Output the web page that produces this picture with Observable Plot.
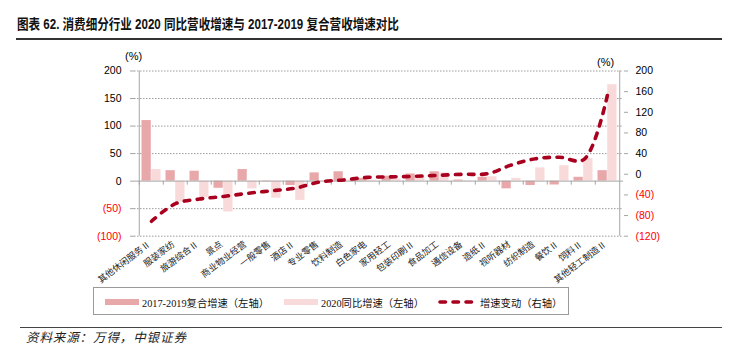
<!DOCTYPE html>
<html>
<head>
<meta charset="utf-8">
<script src="https://cdn.jsdelivr.net/npm/d3@7"></script>
<script src="https://cdn.jsdelivr.net/npm/@observablehq/plot@0.6"></script>
<style>
  html, body { margin: 0; padding: 0; background: #fff; }
  #wrap { position: relative; width: 729px; height: 352px; overflow: hidden; background: #fff; }
  .abs { position: absolute; }
  #title { left: 17px; top: 17px; font-family: "Liberation Sans", "Noto Sans CJK SC", sans-serif; font-weight: bold; font-size: 14px; line-height: 14px; white-space: nowrap; transform: scaleX(0.825); transform-origin: 0 0; color: #111; }
  #tline { left: 16px; top: 38px; width: 706px; height: 1.5px; background: #333; }
  #bline { left: 20px; top: 326.5px; width: 702px; height: 1.5px; background: #444; }
  #source { left: 26px; top: 331px; font-family: "Noto Sans CJK SC", sans-serif; font-style: italic; font-size: 12.5px; line-height: 12.5px; letter-spacing: 0.9px; color: #222; white-space: nowrap; }
  .unit { font-family: "Liberation Sans", Arial, sans-serif; font-size: 11px; line-height: 11px; color: #000; white-space: nowrap; }
  #legend { left: 93px; top: 287px; width: 476px; height: 28px; border: 1px solid #9a9a9a; box-sizing: border-box; font-family: "Liberation Serif", "Noto Sans CJK SC", serif; font-size: 10.3px; color: #111; }
  .lg { position: absolute; top: 0; height: 28px; display: flex; align-items: center; white-space: nowrap; }
  .sw { display: inline-block; width: 34px; height: 6px; margin-right: 3px; }
</style>
</head>
<body>
<div id="wrap">
  <div id="title" class="abs">图表 62. 消费细分行业 2020 同比营收增速与 2017-2019 复合营收增速对比</div>
  <div id="tline" class="abs"></div>
  <div id="chart" class="abs" style="left:0;top:0;"></div>
  <div id="unitL" class="abs unit" style="left:125px;top:51px;">(%)</div>
  <div id="unitR" class="abs unit" style="left:597px;top:57px;">(%)</div>
  <div id="legend" class="abs"></div>
  <div id="bline" class="abs"></div>
  <div id="source" class="abs">资料来源：万得，中银证券</div>
</div>
<script>
// ---- data ----
const categories = ["其他休闲服务Ⅱ", "服装家纺", "旅游综合Ⅱ", "景点", "商业物业经营", "一般零售", "酒店Ⅱ", "专业零售", "饮料制造", "白色家电", "家用轻工", "包装印刷Ⅱ", "食品加工", "通信设备", "造纸Ⅱ", "视听器材", "纺织制造", "餐饮Ⅱ", "饲料Ⅱ", "其他轻工制造Ⅱ"];
const cagr2017_2019 = [110, 19, 18, -13, 21, -1, -8, 15, 17, 5, 9, 13, 17, 2, 7, -14, -8, -7, 7, 19];
const yoy2020 = [21, -38, -30, -56, -14, -31, -35, 1, 2, 2, 4, 7, 15, 1, 8, 5, 24, 28, 41, 175];
const speedChange = [-91, -57, -48, -43, -37, -32, -27, -15, -11, -6, -5, -4, -2, 0, 1, 18, 30, 33, 28, 154];
const leftTicks = [-100, -50, 0, 50, 100, 150, 200];
const rightTicks = [-120, -80, -40, 0, 40, 80, 120, 160, 200];
const seriesNames = ["2017-2019复合增速（左轴）", "2020同比增速（左轴）", "增速变动（右轴）"];

// ---- styles ----
const darkPink = "#e8a8aa";
const lightPink = "#f9dada";
const lineRed = "#a8001e";
const axisGray = "#a6a6a6";

const rows = categories.map((c, i) => ({cat: c, cagr: cagr2017_2019[i], yoy: yoy2020[i], change: speedChange[i]}));

// right axis [-120,200] mapped onto left axis [-100,200]
const L0 = leftTicks[0], L1 = leftTicks[leftTicks.length - 1];
const R0 = rightTicks[0], R1 = rightTicks[rightTicks.length - 1];
const toLeft = v => L0 + (v - R0) * (L1 - L0) / (R1 - R0);
const fromLeft = v => R0 + (v - L0) * (R1 - R0) / (L1 - L0);
const fmt = d => d < 0 ? `(${-d})` : `${d}`;

const W = 729, H = 290, mL = 134, mR = 106, mT = 70.5, mB = 54.3;
const bw = (W - mL - mR) / categories.length;

const numFont = "'Liberation Sans', Arial, sans-serif";
const catFont = "'Liberation Serif', 'Noto Sans CJK SC', serif";

const chart = Plot.plot({
  width: W, height: H,
  marginLeft: mL, marginRight: mR, marginTop: mT, marginBottom: mB,
  x: {type: "band", domain: categories, padding: 0, label: null},
  y: {domain: [L0, L1], label: null},
  style: {fontFamily: numFont, fontSize: "10.5px", color: "#000", background: "transparent", overflow: "visible"},
  marks: [
    Plot.ruleY(leftTicks.filter(d => d !== 0), {stroke: "#9c9c9c", strokeDasharray: "1.5,1.5"}),
    Plot.barY(rows, {x: "cat", y: "cagr", fill: darkPink, insetLeft: 2.5, insetRight: bw / 2}),
    Plot.barY(rows, {x: "cat", y: "yoy", fill: lightPink, insetLeft: bw / 2, insetRight: 2.5}),
    Plot.ruleY([0], {stroke: axisGray}),
    Plot.ruleX(categories, {x: d => d, y1: 0, y2: 0, insetBottom: -4, dx: -bw / 2, stroke: axisGray}),
    Plot.ruleX([categories[0]], {x: d => d, dx: -bw / 2, stroke: axisGray}),
    Plot.ruleX([categories[categories.length - 1]], {x: d => d, dx: bw / 2, stroke: axisGray}),
    Plot.axisY(leftTicks.filter(d => d >= 0), {anchor: "left", tickSize: 4, tickPadding: 9, tickFormat: fmt, stroke: axisGray, fill: "#000", fontSize: 10.5}),
    Plot.axisY(leftTicks.filter(d => d < 0), {anchor: "left", tickSize: 4, tickPadding: 9, tickFormat: fmt, stroke: axisGray, fill: "#ff0000", fontSize: 10.5}),
    Plot.axisY(rightTicks.filter(d => d >= 0).map(toLeft), {anchor: "right", tickSize: 4, tickPadding: 8, tickFormat: d => fmt(Math.round(fromLeft(d))), stroke: axisGray, fill: "#000", fontSize: 10.5}),
    Plot.axisY(rightTicks.filter(d => d < 0).map(toLeft), {anchor: "right", tickSize: 4, tickPadding: 8, tickFormat: d => fmt(Math.round(fromLeft(d))), stroke: axisGray, fill: "#ff0000", fontSize: 10.5}),
    Plot.axisX({anchor: "bottom", tickSize: 0, tickPadding: 7, tickRotate: -37, dx: -2, fontFamily: catFont, fontSize: 9, fill: "#222"}),
    Plot.line(rows, {x: "cat", y: d => toLeft(d.change), curve: "catmull-rom", stroke: lineRed, strokeWidth: 3.6, strokeDasharray: "5.5,7.5", strokeLinecap: "round"})
  ]
});
document.getElementById("chart").appendChild(chart);

// ---- legend ----
const legend = document.getElementById("legend");
const items = [
  {left: 11, html: `<span class="sw" style="background:${darkPink}"></span>${seriesNames[0]}`},
  {left: 190, html: `<span class="sw" style="background:${lightPink}"></span>${seriesNames[1]}`},
  {left: 344, html: `<svg width="40" height="8" style="margin-right:2px"><line x1="2" y1="4" x2="38" y2="4" stroke="${lineRed}" stroke-width="3.6" stroke-linecap="round" stroke-dasharray="5.5,7.5"/></svg>${seriesNames[2]}`}
];
for (const it of items) {
  const d = document.createElement("div");
  d.className = "lg";
  d.style.left = it.left + "px";
  d.innerHTML = it.html;
  legend.appendChild(d);
}
</script>
</body>
</html>
